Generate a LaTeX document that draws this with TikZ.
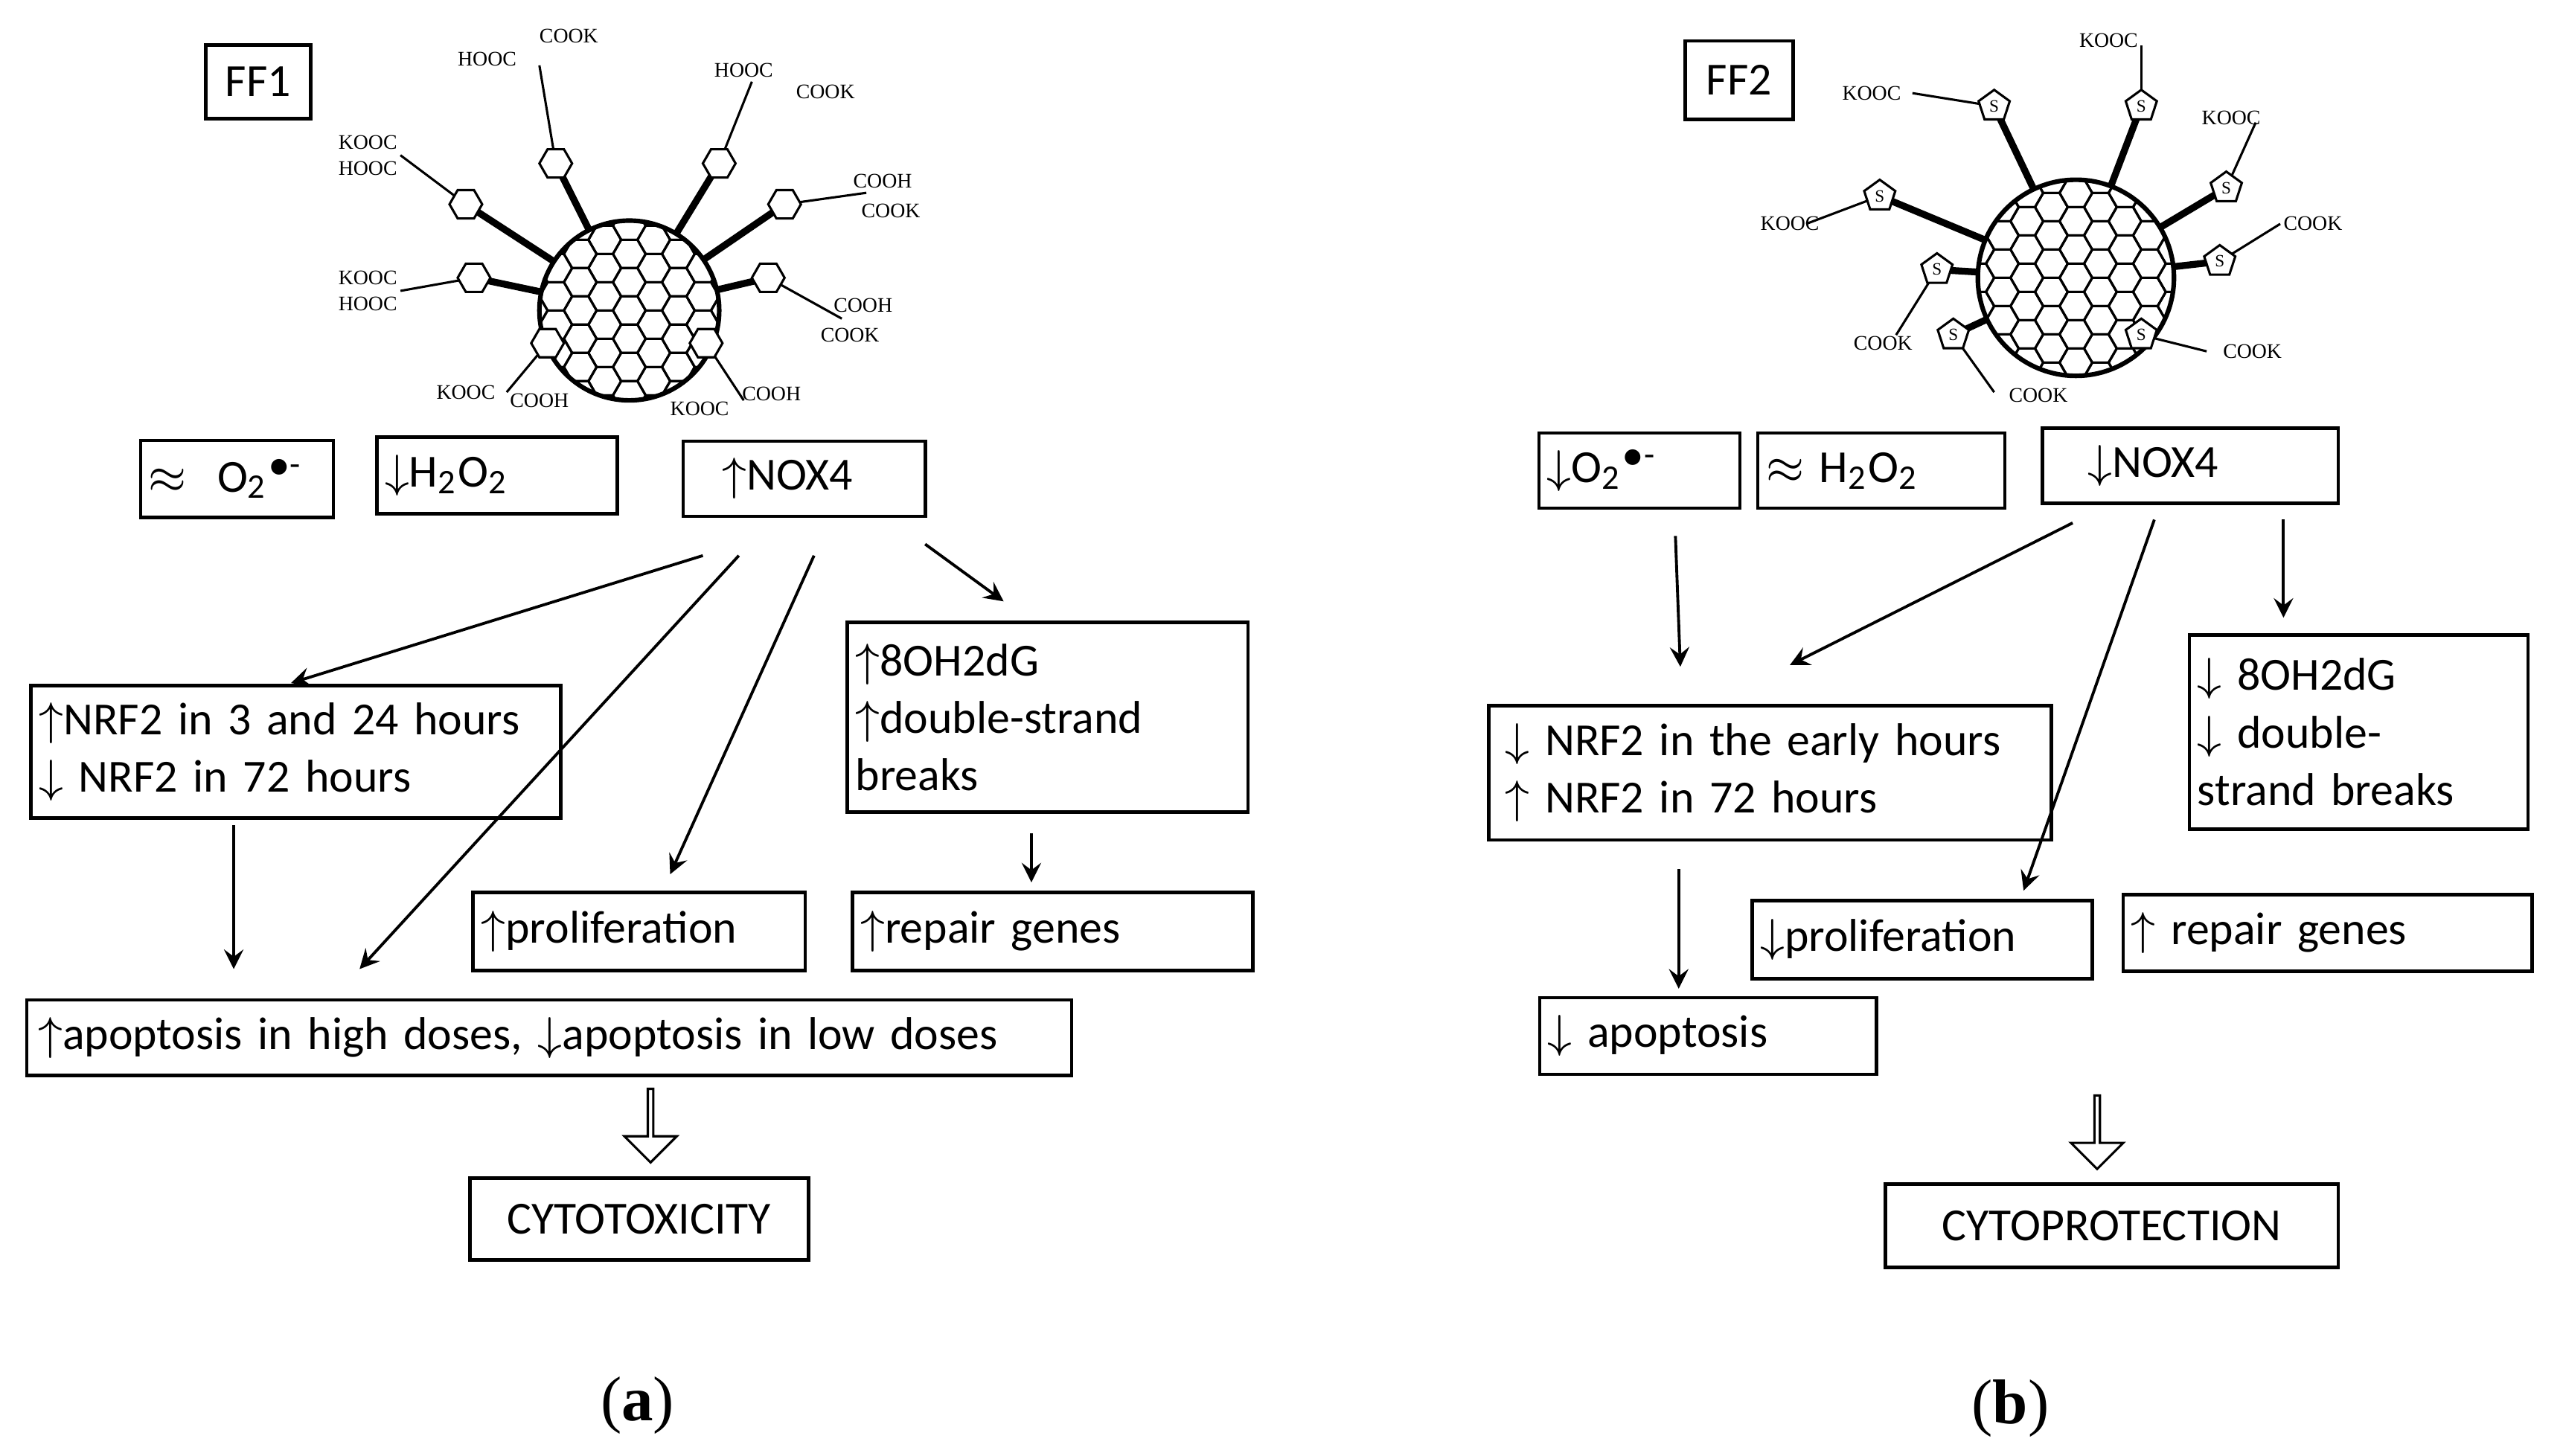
\documentclass[tikz,border=0pt]{standalone}
\usepackage{fontspec}
\setmainfont{Carlito}
\newfontfamily\serif{Liberation Serif}
\usetikzlibrary{shapes.geometric,shapes.arrows}
\newcommand{\dn}{$\downarrow$}
\newcommand{\up}{$\uparrow$}
\newcommand{\rad}{O\textsubscript{2}\textsuperscript{$\bullet$-}}
\newcommand{\perox}{H\textsubscript{2}O\textsubscript{2}}
\newcommand{\fullerene}[3]{% center x, center y, radius
  \fill[white] (#1,#2) circle (#3);
  \begin{scope}
    \clip (#1,#2) circle (#3);
    \foreach \i in {-5,...,5}
      \foreach \j in {-5,...,5}
      {
        \pgfmathsetmacro{\hx}{#1+\i*15}
        \pgfmathsetmacro{\hy}{#2+\j*17.3+mod(abs(\i),2)*8.66}
        \draw[thin] (\hx,\hy) ++(0:10) -- ++(120:10) -- ++(180:10) -- ++(240:10) -- ++(300:10) -- ++(0:10) -- cycle;
      }
  \end{scope}
  \draw[thick] (#1,#2) circle (#3);
}
\begin{document}
\begin{tikzpicture}
  [
    x=0.01cm, y=-0.01cm,
    font=\fontsize{8}{10}\selectfont,
    >=stealth,
    box/.style=
    {
      draw,
      line width=0.6pt,
      inner sep=0pt,
      align=left,
      anchor=center,
    },
    chem/.style=
    {
      font=\serif\fontsize{3.6}{4}\selectfont,
      inner sep=0pt,
    },
    ring/.style=
    {
      draw,
      regular polygon,
      regular polygon sides=6,
      minimum size=0.2cm,
      inner sep=0pt,
      thin,
    },
    thio/.style=
    {
      draw,
      regular polygon,
      regular polygon sides=5,
      minimum size=0.2cm,
      inner sep=0pt,
      thin,
      font=\serif\fontsize{3}{3}\selectfont,
    },
    link/.style={->, line width=0.5pt},
    hollow/.style=
    {
      draw,
      single arrow,
      shape border rotate=270,
      minimum height=0.45cm,
      minimum width=0.32cm,
      single arrow head extend=0.06cm,
      inner sep=0pt,
      fill=white,
    }
  ]
  \useasboundingbox (0,0) rectangle (1568,891);

  % ---------- left molecule
  \foreach \rx/\ry in {340/100,440/100,285/125,480/125,290/170,470/170,335/210,432/210}
  {
    \draw[line width=1.2pt] (385,190) -- (\rx,\ry);
  }
  \fullerene{385}{190}{55}
  \foreach \rx/\ry/\lx/\ly in {340/100/330/40,440/100/460/50,285/125/245/95,480/125/530/118,290/170/245/178,470/170/515/195,335/210/310/240,432/210/455/245}
  {
    \draw[thin] (\rx,\ry) -- (\lx,\ly);
    \node[ring, fill=white] at (\rx,\ry) {};
  }
  \node[chem] (l1a) at (298,36) {HOOC};
  \node[chem] (l1b) at (348,22) {COOK};
  \node[chem] (l2a) at (455,43) {HOOC};
  \node[chem] (l2b) at (505,56) {COOK};
  \node[chem] (l3a) at (225,87) {KOOC};
  \node[chem] (l3b) at (225,103) {HOOC};
  \node[chem] (l4a) at (540,111) {COOH};
  \node[chem] (l4b) at (545,129) {COOK};
  \node[chem] (l5a) at (225,170) {KOOC};
  \node[chem] (l5b) at (225,186) {HOOC};
  \node[chem] (l6a) at (528,187) {COOH};
  \node[chem] (l6b) at (520,205) {COOK};
  \node[chem] (l7a) at (285,240) {KOOC};
  \node[chem] (l7b) at (330,245) {COOH};
  \node[chem] (l8a) at (428,250) {KOOC};
  \node[chem] (l8b) at (472,241) {COOH};

  % ---------- right molecule
  \foreach \rx/\ry in {1220/65,1310/65,1150/120,1362/115,1185/165,1358/160,1195/205,1310/205}
  {
    \draw[line width=1.2pt] (1270,170) -- (\rx,\ry);
  }
  \fullerene{1270}{170}{60}
  \foreach \rx/\ry/\lx/\ly in {1220/65/1170/57,1310/65/1310/28,1150/120/1105/137,1362/115/1380/75,1185/165/1160/205,1358/160/1395/137,1195/205/1220/240,1310/205/1350/215}
  {
    \draw[thin] (\rx,\ry) -- (\lx,\ly);
    \node[thio, fill=white] at (\rx,\ry) {S};
  }
  \node[chem] (r1) at (1145,57) {KOOC};
  \node[chem] (r2) at (1290,25) {KOOC};
  \node[chem] (r3) at (1365,72) {KOOC};
  \node[chem] (r4) at (1095,137) {KOOC};
  \node[chem] (r5) at (1415,137) {COOK};
  \node[chem] (r6) at (1152,210) {COOK};
  \node[chem] (r7) at (1378,215) {COOK};
  \node[chem] (r8) at (1247,242) {COOK};

  % ---------- left panel
  \node[box, minimum width=0.64cm, minimum height=0.45cm, align=center] (FFone) at (158,50) {FF1};
  \node[box, minimum width=1.18cm, minimum height=0.47cm, text width=1.08cm] (supL) at (145,293) {$\approx$\ \ \rad};
  \node[box, minimum width=1.47cm, minimum height=0.47cm, text width=1.37cm] (perL) at (304,291) {\dn\perox};
  \node[box, minimum width=1.48cm, minimum height=0.46cm, text width=1.00cm] (noxL) at (492,293) {\up NOX4};
  \node[box, minimum width=3.24cm, minimum height=0.81cm, text width=3.14cm] (nrfL) at (181,460) {\up NRF2 in 3 and 24 hours\\\dn\ NRF2 in 72 hours};
  \node[box, minimum width=2.45cm, minimum height=1.16cm, text width=2.35cm] (dnaL) at (641,439) {\up 8OH2dG\\\up double-strand\\breaks};
  \node[box, minimum width=2.03cm, minimum height=0.48cm, text width=1.93cm] (proL) at (391,570) {\up proliferation};
  \node[box, minimum width=2.45cm, minimum height=0.48cm, text width=2.35cm] (repL) at (644,570) {\up repair genes};
  \node[box, minimum width=6.39cm, minimum height=0.46cm, text width=6.25cm] (apoL) at (336,635) {\up apoptosis in high doses, \dn apoptosis in low doses};
  \node[box, minimum width=2.07cm, minimum height=0.50cm, align=center] (cytT) at (391,746) {CYTOTOXICITY};
  \node[hollow] (hoL) at (398,688) {};
  \node[font=\serif\fontsize{11}{12}\selectfont] (capA) at (390,860) {(\textbf{a})};

  \coordinate (nL1) at (430,340);
  \coordinate (nL2) at (452,340);
  \coordinate (nL3) at (498,340);
  \coordinate (nL4) at (566,333);
  \coordinate (tL1) at (178,418);
  \coordinate (tL2) at (220,593);
  \coordinate (tL3) at (410,535);
  \coordinate (tL4) at (614,368);
  \coordinate (sL5) at (143,505);
  \coordinate (tL5) at (143,593);
  \coordinate (sL6) at (631,510);
  \coordinate (tL6) at (631,540);
  \draw[link] (nL1) -- (tL1);
  \draw[link] (nL2) -- (tL2);
  \draw[link] (nL3) -- (tL3);
  \draw[link] (nL4) -- (tL4);
  \draw[link] (sL5) -- (tL5);
  \draw[link] (sL6) -- (tL6);

  % ---------- right panel
  \node[box, minimum width=0.66cm, minimum height=0.48cm, align=center] (FFtwo) at (1064,49) {FF2};
  \node[box, minimum width=1.23cm, minimum height=0.46cm, text width=1.13cm] (supR) at (1003,288) {\dn\rad};
  \node[box, minimum width=1.51cm, minimum height=0.46cm, text width=1.41cm] (perR) at (1151,288) {$\approx$ \perox};
  \node[box, minimum width=1.81cm, minimum height=0.46cm, text width=1.25cm] (noxR) at (1340,285) {\dn NOX4};
  \node[box, minimum width=3.44cm, minimum height=0.82cm, text width=3.24cm] (nrfR) at (1083,473) {\dn\ NRF2 in the early hours\\\up\ NRF2 in 72 hours};
  \node[box, minimum width=2.07cm, minimum height=1.19cm, text width=1.97cm] (dnaR) at (1443,448) {\dn\ 8OH2dG\\\dn\ double-\\strand breaks};
  \node[box, minimum width=2.08cm, minimum height=0.48cm, text width=1.98cm] (proR) at (1176,575) {\dn proliferation};
  \node[box, minimum width=2.50cm, minimum height=0.47cm, text width=2.40cm] (repR) at (1424,571) {\up\ repair genes};
  \node[box, minimum width=2.06cm, minimum height=0.47cm, text width=1.96cm] (apoR) at (1045,634) {\dn\ apoptosis};
  \node[box, minimum width=2.77cm, minimum height=0.51cm, align=center] (cytP) at (1292,750) {CYTOPROTECTION};
  \node[hollow] (hoR) at (1283,692) {};
  \node[font=\serif\fontsize{11}{12}\selectfont] (capB) at (1230,862) {(\textbf{b})};

  \coordinate (sR1) at (1025,328);
  \coordinate (tR1) at (1028,408);
  \coordinate (sR2) at (1268,320);
  \coordinate (tR2) at (1095,407);
  \coordinate (sR3) at (1318,318);
  \coordinate (tR3) at (1238,545);
  \coordinate (sR4) at (1397,318);
  \coordinate (tR4) at (1397,378);
  \coordinate (sR5) at (1027,532);
  \coordinate (tR5) at (1027,605);
  \draw[link] (sR1) -- (tR1);
  \draw[link] (sR2) -- (tR2);
  \draw[link] (sR3) -- (tR3);
  \draw[link] (sR4) -- (tR4);
  \draw[link] (sR5) -- (tR5);
\end{tikzpicture}
\end{document}
